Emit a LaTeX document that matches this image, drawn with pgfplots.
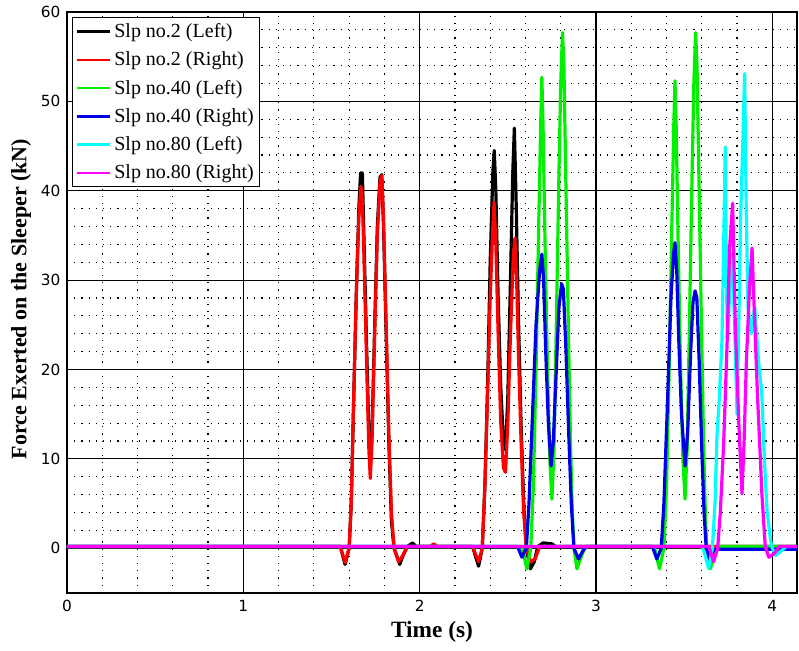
\documentclass[border=0pt]{standalone}
\usepackage{fontspec}
\setmainfont{Liberation Serif}
\newfontfamily\tickfont{DejaVu Sans}
\usepackage{pgfplots}
\pgfplotsset{compat=1.18}
\definecolor{cgreen}{RGB}{0,240,0}
\definecolor{cblue}{RGB}{0,0,230}
\definecolor{ccyan}{RGB}{0,255,255}
\definecolor{cmag}{RGB}{255,0,255}
\begin{document}
\begin{tikzpicture}
\begin{axis}[
  scale only axis,
  width=547.5pt, height=435.75pt,
  xmin=0, xmax=4.14, ymin=-5, ymax=60,
  xtick={0,1,2,3,4}, ytick={0,10,...,60},
  minor x tick num=4, minor y tick num=4,
  grid=both,
  major grid style={black, line width=0.8pt},
  minor grid style={black, line width=0.9pt, dash pattern=on 0.9pt off 4.5pt},
  axis line style={black, line width=1.2pt},
  major tick length=0pt, minor tick length=0pt,
  /pgf/number format/assume math mode=true,
  ticklabel style={font=\tickfont\fontsize{11.5}{13}\selectfont},
  xticklabel style={yshift=-2pt},
  yticklabel style={xshift=-1.5pt},
  xlabel={\textbf{Time (s)}},
  ylabel={\textbf{Force Exerted on the Sleeper (kN)}},
  xlabel style={font=\fontsize{17.5}{20}\selectfont, at={(axis description cs:0.5,-0.067)},anchor=center},
  ylabel style={font=\fontsize{16.5}{19}\selectfont, at={(axis description cs:-0.063,0.506)},anchor=center},
  legend style={at={(0,1)}, anchor=north west, xshift=3.75pt, yshift=-3.75pt,
    font=\fontsize{15}{17}\selectfont, draw=black, line width=0.9pt, fill=white,
    inner sep=2.5pt, row sep=5.2pt, cells={anchor=west},
    nodes={inner xsep=2pt}},
  legend image post style={line width=1.8pt},
  legend image code/.code={\draw[#1] (0cm,0cm) -- (25pt,0cm);},
  every axis plot/.append style={line width=2.4pt, line join=round},
]
\addplot[black] coordinates {
(0,0.2) (1.55,0.2) (1.577,-1.8) (1.60,0.0) (1.612,5) (1.625,16) (1.64,28) (1.655,38) (1.665,42) (1.675,42) (1.685,34) (1.70,22) (1.712,13) (1.72,9.7) (1.73,13) (1.745,25) (1.76,36) (1.775,41.5) (1.785,41.8) (1.795,36) (1.81,24) (1.825,12) (1.84,3) (1.855,0) (1.887,-1.8) (1.91,-0.6) (1.93,0.2) (1.96,0.6) (1.98,0.2) (2.30,0.2) (2.334,-2.0) (2.355,0.0) (2.37,7) (2.385,18) (2.40,32) (2.415,42) (2.423,44.5) (2.432,40) (2.445,28) (2.46,18) (2.475,12) (2.487,11) (2.50,17) (2.515,30) (2.528,42) (2.537,47) (2.548,38) (2.56,26) (2.575,14) (2.59,5) (2.605,0) (2.628,-2.3) (2.65,-1.5) (2.67,0.2) (2.70,0.6) (2.75,0.5) (2.77,0.2) (4.14,0.2)
};
\addlegendentry{Slp no.2 (Left)}
\addplot[red] coordinates {
(0,0.2) (1.55,0.2) (1.577,-1.6) (1.60,0.0) (1.612,5) (1.625,16) (1.64,28) (1.655,37) (1.667,40.5) (1.675,39) (1.685,32) (1.70,20) (1.712,11) (1.72,7.8) (1.73,12) (1.745,24) (1.76,35) (1.775,41) (1.785,41.7) (1.795,37) (1.81,25) (1.825,13) (1.84,4) (1.855,0) (1.88,-1.5) (1.905,-0.8) (1.93,0.2) (2.06,0.2) (2.08,0.5) (2.10,0.2) (2.30,0.2) (2.334,-1.5) (2.355,0) (2.37,7) (2.385,17) (2.40,28) (2.415,36) (2.422,38.7) (2.432,34) (2.445,24) (2.46,14) (2.475,9) (2.487,8.5) (2.50,14) (2.515,24) (2.53,32) (2.54,34.7) (2.55,30) (2.56,22) (2.575,12) (2.59,4) (2.605,0) (2.63,-1.5) (2.655,-1.2) (2.68,0.2) (4.14,0.2)
};
\addlegendentry{Slp no.2 (Right)}
\addplot[cgreen] coordinates {
(0,0.2) (2.58,0.2) (2.608,-2.3) (2.63,0) (2.645,7) (2.66,20) (2.675,36) (2.687,48) (2.693,52.7) (2.70,47) (2.712,33) (2.725,20) (2.738,10) (2.75,5.5) (2.762,11) (2.775,25) (2.79,42) (2.80,52) (2.81,57.7) (2.818,54) (2.83,40) (2.843,25) (2.855,12) (2.866,4) (2.875,0) (2.892,-2.3) (2.915,-1) (2.94,0.2) (3.33,0.2) (3.36,-2.3) (3.385,0) (3.40,7) (3.415,20) (3.43,36) (3.442,48) (3.448,52.3) (3.455,47) (3.467,33) (3.48,20) (3.493,10) (3.505,5.5) (3.517,11) (3.53,25) (3.545,42) (3.555,52) (3.565,57.7) (3.573,54) (3.585,40) (3.598,25) (3.61,12) (3.62,4) (3.628,0) (3.648,-2.3) (3.67,-1) (3.69,0.2) (4.14,0.2)
};
\addlegendentry{Slp no.40 (Left)}
\addplot[cblue] coordinates {
(0,0.2) (2.555,0.2) (2.58,-1) (2.605,0) (2.62,5) (2.64,15) (2.66,25) (2.68,31) (2.693,32.9) (2.703,30) (2.715,22) (2.73,14) (2.745,9.2) (2.758,12) (2.775,20) (2.79,27) (2.805,29.6) (2.815,29) (2.83,22) (2.845,13) (2.86,5) (2.875,0) (2.901,-1.2) (2.925,-0.3) (2.945,0.2) (3.32,0.2) (3.345,-1.2) (3.37,0) (3.385,5) (3.405,16) (3.425,28) (3.44,33) (3.448,34.2) (3.458,31) (3.47,23) (3.485,15) (3.505,9.2) (3.52,13) (3.537,22) (3.55,27.5) (3.562,28.8) (3.572,28) (3.585,21) (3.60,11) (3.613,4) (3.625,0) (3.645,-1.3) (3.665,-0.3) (3.68,-0.1) (4.14,-0.1)
};
\addlegendentry{Slp no.40 (Right)}
\addplot[ccyan] coordinates {
(0,0.2) (3.60,0.2) (3.615,-0.5) (3.639,-2.3) (3.66,0) (3.675,5) (3.686,12.5) (3.70,17) (3.714,23) (3.725,35) (3.733,44.9) (3.74,30) (3.745,23.5) (3.76,29) (3.775,33) (3.79,22) (3.80,15) (3.81,25) (3.82,36.7) (3.832,45) (3.843,53.1) (3.852,38) (3.862,27) (3.88,24) (3.90,27) (3.922,20.9) (3.94,17.5) (3.955,10) (3.97,4.2) (3.99,0.9) (4.00,0) (4.02,-0.8) (4.05,-0.3) (4.08,0.2) (4.14,0.2)
};
\addlegendentry{Slp no.80 (Left)}
\addplot[cmag] coordinates {
(0,0.2) (3.64,0.2) (3.667,-1.5) (3.69,0) (3.705,4) (3.724,11.7) (3.743,22.6) (3.758,33.7) (3.775,38.6) (3.79,25) (3.81,14) (3.828,6.1) (3.84,12) (3.853,21) (3.87,29) (3.885,33.6) (3.895,28) (3.916,17) (3.93,11) (3.941,6) (3.96,0.2) (3.98,-1) (4.01,-0.6) (4.04,0.2) (4.14,0.2)
};
\addlegendentry{Slp no.80 (Right)}
\end{axis}
\path (current axis.south west) ++(-50.25pt,-43.5pt) coordinate (bbA);
\path (current axis.north east) ++(1.5pt,9pt) coordinate (bbB);
\useasboundingbox (bbA) rectangle (bbB);
\end{tikzpicture}
\end{document}
